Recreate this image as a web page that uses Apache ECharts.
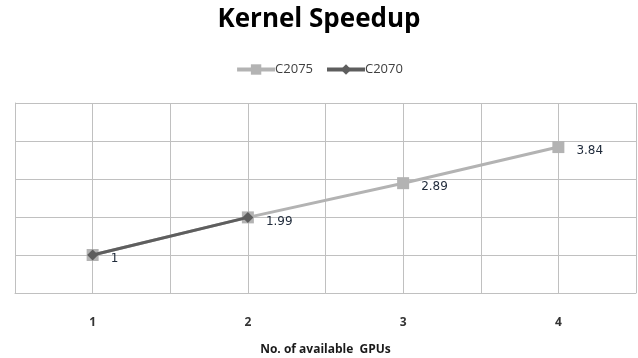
<!DOCTYPE html>
<html>
<head>
<meta charset="utf-8">
<script src="https://cdn.jsdelivr.net/npm/echarts@6/dist/echarts.min.js"></script>
<style>
  html, body { margin: 0; padding: 0; background: #fff; }
  #chart { width: 638px; height: 358px; }
</style>
</head>
<body>
<div id="chart"></div>
<script>
// GPU counts along the x axis
const gpuCounts = [1, 2, 3, 4];
// Measured speedup per card
const speedupC2075 = [1, 1.99, 2.89, 3.84];
const speedupC2070 = [1, 1.99];

const toPairs = (vals) => vals.map((v, i) => [gpuCounts[i], v]);

const chart = echarts.init(document.getElementById('chart'));
chart.setOption({
  animation: false,
  backgroundColor: '#ffffff',
  title: {
    text: 'Kernel Speedup',
    left: 'center',
    top: 2,
    textStyle: { fontFamily: 'Open Sans', fontWeight: 'bold', fontSize: 26, color: '#000' }
  },
  legend: {
    top: 58,
    left: 'center',
    itemWidth: 38,
    itemHeight: 13,
    itemGap: 12,
    lineStyle: { width: 4 },
    textStyle: { fontFamily: 'Open Sans', fontSize: 13, color: '#404040', padding: [0, 0, 0, -5] },
    data: ['C2075', 'C2070']
  },
  grid: { left: 15, right: 2, top: 103, bottom: 65, outerBoundsMode: 'none', containLabel: false },
  xAxis: {
    type: 'value',
    min: 0.5,
    max: 4.5,
    interval: 0.5,
    name: 'No. of available  GPUs',
    nameLocation: 'middle',
    nameGap: 51,
    nameTextStyle: { fontFamily: 'Open Sans', fontWeight: 'bold', fontSize: 12, color: '#1a1a1a' },
    axisLine: { show: true, lineStyle: { color: '#c0c0c0', width: 1 } },
    axisTick: { show: false },
    axisLabel: {
      margin: 24,
      fontFamily: 'Open Sans',
      fontSize: 12,
      fontWeight: 'bold',
      color: '#333',
      formatter: (v) => (Number.isInteger(v) && gpuCounts.includes(v) ? String(v) : '')
    },
    splitLine: { show: true, lineStyle: { color: '#c0c0c0', width: 1 } }
  },
  yAxis: {
    type: 'value',
    min: 0,
    max: 5,
    interval: 1,
    axisLine: { show: true, lineStyle: { color: '#c0c0c0', width: 1 } },
    axisTick: { show: false },
    axisLabel: { show: false },
    splitLine: { show: true, lineStyle: { color: '#c0c0c0', width: 1 } }
  },
  series: [
    {
      name: 'C2075',
      type: 'line',
      data: toPairs(speedupC2075),
      symbol: 'rect',
      symbolSize: 12,
      itemStyle: { color: '#b3b3b3' },
      lineStyle: { color: '#b3b3b3', width: 3 },
      label: {
        show: true,
        position: 'right',
        distance: 12,
        offset: [0, 4],
        fontFamily: 'DejaVu Sans',
        fontSize: 12,
        color: '#1f2a3a',
        formatter: (p) => String(p.value[1])
      },
      z: 2
    },
    {
      name: 'C2070',
      type: 'line',
      data: toPairs(speedupC2070),
      symbol: 'diamond',
      symbolSize: 11,
      itemStyle: { color: '#5e5e5e' },
      lineStyle: { color: '#5e5e5e', width: 3 },
      z: 3
    }
  ]
});
</script>
</body>
</html>
